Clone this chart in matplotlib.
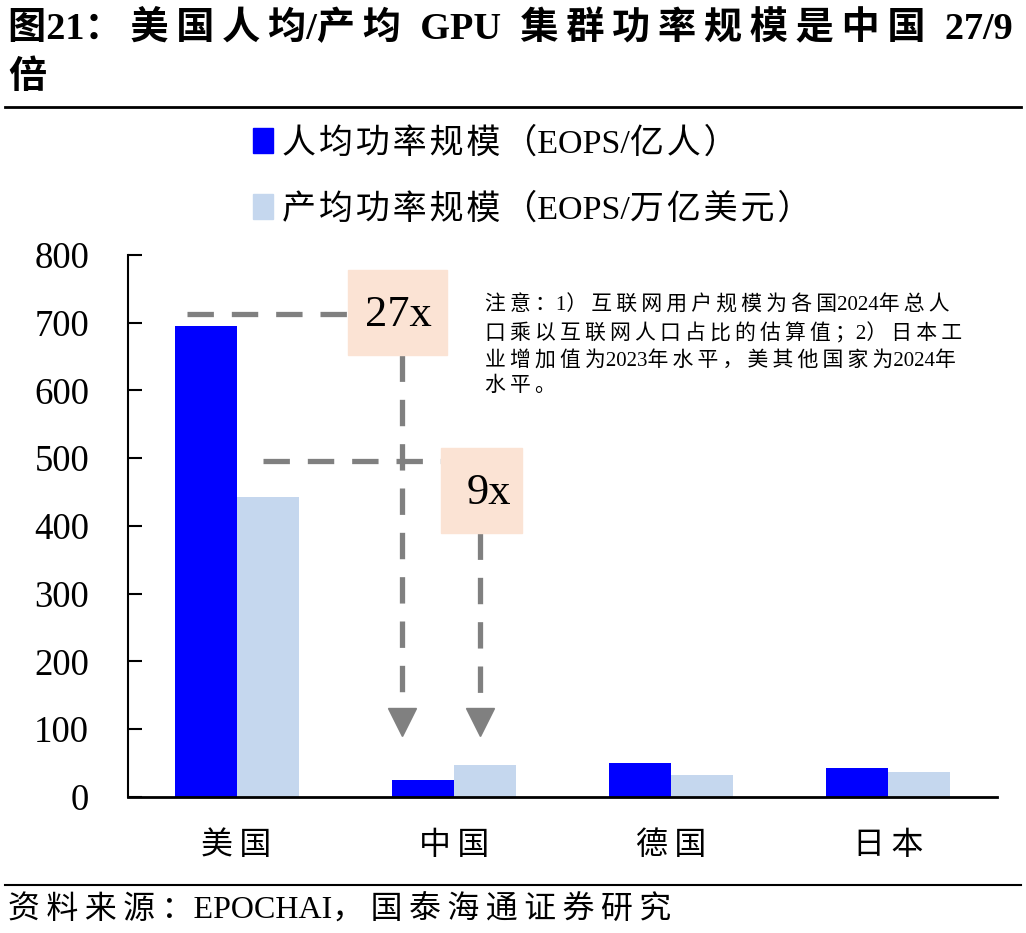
import matplotlib
matplotlib.use("Agg")
import matplotlib.pyplot as plt
from matplotlib.patches import Patch, Rectangle
from matplotlib.lines import Line2D
import numpy as np

plt.rcParams['font.family'] = ['Liberation Serif', 'Noto Sans CJK SC', 'DejaVu Sans']

categories = ["美国", "中国", "德国", "日本"]
per_capita = [695, 25, 50, 43]      # 人均功率规模（EOPS/亿人）
per_output = [443, 47, 32, 37]      # 产均功率规模（EOPS/万亿美元）
series_names = ["人均功率规模（EOPS/亿人）", "产均功率规模（EOPS/万亿美元）"]
yticks = [0, 100, 200, 300, 400, 500, 600, 700, 800]
title = "图21：美国人均/产均  GPU  集群功率规模是中国  27/9"
title2 = "倍"
source = "资料来源：EPOCHAI，国泰海通证券研究"
note_lines = ["注意：1）互联网用户规模为各国2024年总人",
              "口乘以互联网人口占比的估算值；2）日本工",
              "业增加值为2023年水平，美其他国家为2024年",
              "水平。"]
ratio_labels = ["27x", "9x"]

c_dark = "#0000FF"
c_light = "#C5D7EE"
c_box = "#FBE3D4"
c_dash = "#808080"


def spaced(s, sp):
    """insert letter spacing between adjacent CJK characters"""
    out = ""
    for i, ch in enumerate(s):
        out += ch
        if i < len(s) - 1:
            nxt = s[i + 1]
            if ord(ch) > 0x2E80 and ord(nxt) > 0x2E80:
                out += sp
    return out


fig = plt.figure(figsize=(10.26, 9.33), dpi=100)
ax = fig.add_axes([0.1248, 0.1458, 0.8469, 0.5809])

x = np.arange(len(categories))
w = 0.285
ax.bar(x - w/2, per_capita, w, color=c_dark, zorder=2)
ax.bar(x + w/2, per_output, w, color=c_light, zorder=2)

ax.set_xlim(-0.5, 3.5)
ax.set_ylim(0, 800)
ax.set_yticks(yticks)
ax.set_yticklabels([str(t) for t in yticks], fontsize=26.5)
ax.set_xticks(x)
ax.set_xticklabels([spaced(c, "\u2009") for c in categories], fontsize=23)
ax.tick_params(axis='y', direction='in', length=10, width=1.5, pad=28)
ax.tick_params(axis='x', length=0, pad=25)
for s in ['top', 'right']:
    ax.spines[s].set_visible(False)
ax.spines['left'].set_linewidth(1.5)
ax.spines['bottom'].set_linewidth(2)

# dashed guide lines
dkw = dict(color=c_dash, lw=3.8, dashes=(5, 3.4), solid_capstyle='butt', zorder=3)
ax.plot([-0.228, 0.513], [713, 713], **dkw)
ax.plot([0.121, 0.941], [496, 496], **dkw)
ax.plot([0.761, 0.761], [652, 135], **dkw)
ax.plot([1.120, 1.120], [390, 135], **dkw)
ax.plot([0.761], [111], marker='v', ms=20, color=c_dash, mec=c_dash, zorder=3)
ax.plot([1.120], [111], marker='v', ms=20, color=c_dash, mec=c_dash, zorder=3)

# ratio boxes
ax.add_patch(Rectangle((0.513, 652), 0.455, 126, color=c_box, zorder=4, clip_on=False))
ax.add_patch(Rectangle((0.941, 390), 0.373, 125, color=c_box, zorder=4, clip_on=False))
ax.text(0.745, 712, ratio_labels[0], fontsize=32, ha='center', va='center', zorder=5)
ax.text(1.160, 448, ratio_labels[1], fontsize=32, ha='center', va='center', zorder=5)

# note
fig.text(485/1026, 1 - 295/933, "\n".join(spaced(l, "\u2009") for l in note_lines),
         fontsize=15, ha='left', va='top', linespacing=1.45)

# legend
leg = fig.legend(handles=[Patch(color=c_dark), Patch(color=c_light)],
                 labels=[spaced(n, "\u200a") for n in series_names],
                 loc='upper left', bbox_to_anchor=(253/1026, 1 - 127/933), frameon=False,
                 fontsize=24.5, handlelength=0.6, handleheight=0.75, handletextpad=0.25,
                 labelspacing=1.0, borderaxespad=0, borderpad=0)

# title and rules
fig.text(8/1026, 1 - 28/933, spaced(title, "\u2009"), fontsize=27.5, fontweight='bold',
         ha='left', va='center')
fig.text(8/1026, 1 - 78/933, title2, fontsize=27.5, fontweight='bold', ha='left', va='center')
fig.add_artist(Line2D([5/1026, 1021/1026], [1 - 107/933]*2, color='black', lw=2))
fig.add_artist(Line2D([5/1026, 1021/1026], [1 - 885/933]*2, color='black', lw=1.5))
fig.text(8/1026, 1 - 910/933, spaced(source, "\u2009"), fontsize=23, ha='left', va='center')

fig.savefig("out.png", dpi=100)
